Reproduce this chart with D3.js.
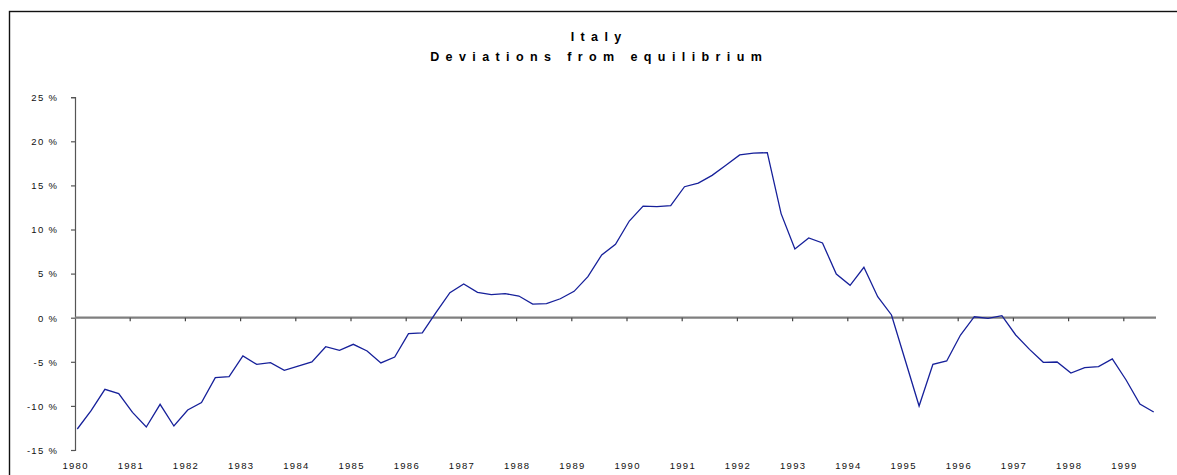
<!DOCTYPE html>
<html>
<head>
<meta charset="utf-8">
<script src="https://cdn.jsdelivr.net/npm/d3@7"></script>
<style>
  html, body { margin: 0; padding: 0; background: #fff; overflow: hidden; }
  svg { display: block; }
  text { font-family: Arial, "Liberation Sans", sans-serif; fill: #111; }
</style>
</head>
<body>
<svg id="chart" width="1177" height="475"></svg>
<script>
// Quarterly deviation of Italy's exchange rate from equilibrium (%), 1980Q1 - 1999Q3
const quarters = d3.range(79).map(i => `${1980 + Math.floor(i / 4)}Q${(i % 4) + 1}`);
const deviation = [
  -12.62, -10.54, -8.12, -8.61,
  -10.73, -12.39, -9.82, -12.28,
  -10.46, -9.63, -6.80, -6.69,
  -4.34, -5.29, -5.10, -5.97,
  -5.48, -5.02, -3.29, -3.70,
  -3.02, -3.78, -5.13, -4.46,
  -1.81, -1.73, 0.60, 2.83,
  3.82, 2.88, 2.61, 2.72,
  2.46, 1.55, 1.59, 2.15,
  2.99, 4.65, 7.11, 8.32,
  10.96, 12.66, 12.59, 12.70,
  14.85, 15.27, 16.14, 17.28,
  18.45, 18.67, 18.71, 11.80,
  7.79, 9.04, 8.47, 4.95,
  3.67, 5.71, 2.38, 0.31,
  -4.85, -10.01, -5.29, -4.91,
  -1.96, 0.11, -0.07, 0.23,
  -1.96, -3.59, -5.06, -5.02,
  -6.27, -5.67, -5.55, -4.68,
  -7.06, -9.78, -10.69
];
const yearLabels = d3.range(1980, 2000).map(String);
const yTicks = [25, 20, 15, 10, 5, 0, -5, -10, -15];
const titleLines = ["Italy", "Deviations from equilibrium"];

const svg = d3.select("#chart");

// outer frame (runs off the right and bottom edges)
svg.append("rect")
  .attr("x", 9.5).attr("y", 11.5)
  .attr("width", 1300).attr("height", 600)
  .attr("fill", "none").attr("stroke", "#111").attr("stroke-width", 1.4);

const plotLeft = 75, plotRight = 1156;

const y = d3.scaleLinear().domain([-15, 25]).range([450, 97.2]);
// point positions for each quarter
const x = d3.scaleLinear().domain([0, quarters.length - 1]).range([77.3, 77.3 + 13.8 * 78]);
// year tick positions (one tick every four quarters)
const xTick = d3.scaleLinear().domain([0, 19]).range([75, 75 + 55.2 * 19]);

// title
const titleLS = 6.4;
svg.append("g").selectAll("text")
  .data(titleLines)
  .join("text")
  .attr("x", 596 + titleLS / 2)
  .attr("y", (d, i) => 41 + i * 19.5)
  .attr("text-anchor", "middle")
  .attr("font-size", 12.5)
  .attr("font-weight", "bold")
  .attr("letter-spacing", titleLS)
  .style("fill", "#000")
  .text(d => d);

// y axis
const yAxis = d3.axisLeft(y)
  .tickValues(yTicks)
  .tickSize(4)
  .tickPadding(0)
  .tickFormat(d => `${d} %`);
const gy = svg.append("g").attr("transform", `translate(${plotLeft},0)`).call(yAxis);
gy.select(".domain").attr("stroke", "#555").attr("stroke-width", 1.2);
gy.selectAll(".tick line").attr("stroke", "#555").attr("stroke-width", 1.2);
gy.selectAll(".tick text")
  .attr("x", -16.8)
  .attr("dy", "0.35em")
  .attr("font-size", 9.5)
  .attr("letter-spacing", 1.3)
  .style("font-family", "Arial, 'Liberation Sans', sans-serif")
  .style("fill", "#111");

// zero line
svg.append("line")
  .attr("x1", plotLeft).attr("x2", plotRight)
  .attr("y1", y(0)).attr("y2", y(0))
  .attr("stroke", "#7f7f7f").attr("stroke-width", 2.2);

// year ticks hanging from the zero line
svg.append("g").selectAll("line")
  .data(yearLabels.slice(1))
  .join("line")
  .attr("x1", (d, i) => xTick(i + 1)).attr("x2", (d, i) => xTick(i + 1))
  .attr("y1", y(0)).attr("y2", y(0) + 3.5)
  .attr("stroke", "#444").attr("stroke-width", 1.2);

// year labels along the bottom
svg.append("g").selectAll("text")
  .data(yearLabels)
  .join("text")
  .attr("x", (d, i) => xTick(i) + 0.6)
  .attr("y", 469)
  .attr("text-anchor", "middle")
  .attr("font-size", 9.5)
  .attr("letter-spacing", 1.3)
  .style("fill", "#111")
  .text(d => d);

// deviation series
const line = d3.line()
  .x((d, i) => x(i))
  .y(d => y(d));

svg.append("path")
  .datum(deviation)
  .attr("d", line)
  .attr("fill", "none")
  .attr("stroke", "#16209a")
  .attr("stroke-width", 1.3)
  .attr("stroke-linejoin", "miter");
</script>
</body>
</html>
